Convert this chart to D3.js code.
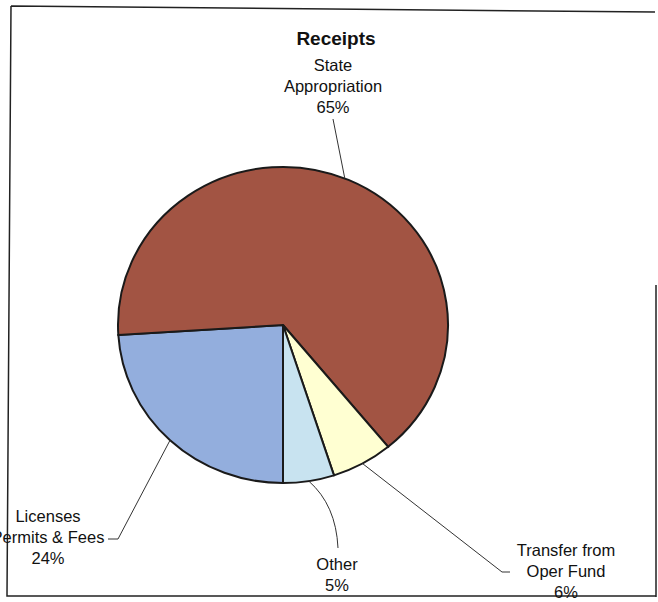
<!DOCTYPE html>
<html>
<head>
<meta charset="utf-8">
<script src="https://cdnjs.cloudflare.com/ajax/libs/d3/7.8.5/d3.min.js"></script>
<style>
  body { margin: 0; background: #fff; }
  text { font-family: "Liberation Sans", Arial, sans-serif; fill: #111; }
</style>
</head>
<body>
<div id="chart"></div>
<script>
// slices, clockwise from 6 o'clock
const categories = ["Licenses Permits & Fees", "State Appropriation", "Transfer from Oper Fund", "Other"];
const labelLines = [["Licenses", "Permits & Fees"], ["State", "Appropriation"], ["Transfer from", "Oper Fund"], ["Other"]];
const values = [24, 65, 6, 5];
const colors = ["#93AEDD", "#A25443", "#FFFFD2", "#C8E3F0"];

const width = 658, height = 602;
const cx = 283, cy = 325, r = 165, squash = 0.958;

// label placement: text centre x, first baseline y, leader angle (deg), leader path points
const layout = [
  { x: 48, y: 522, angle: null, pts: [[118, 539], [108, 539]] },
  { x: 333, y: 71, angle: 22, pts: [[333, 119]] },
  { x: 566, y: 556, angle: null, pts: [[502, 572], [510, 572]] },
  { x: 337, y: 570, angle: null, pts: [[338, 548]], curve: [336, 505] }
];

const svg = d3.select('#chart')
  .append('svg')
  .attr('width', width)
  .attr('height', height);

// scanned frame
svg.append('path')
  .attr('d', 'M11,6 L655,12 M11,6 L7,596 L656,596 M656,285 L656,597')
  .attr('fill', 'none')
  .attr('stroke', '#222')
  .attr('stroke-width', 1.5);

svg.append('text')
  .attr('x', 336)
  .attr('y', 45)
  .attr('text-anchor', 'middle')
  .style('font-size', '19px')
  .style('font-weight', 'bold')
  .text('Receipts');

const pie = d3.pie()
  .sort(null)
  .startAngle(Math.PI)
  .endAngle(3 * Math.PI);

const arcs = pie(values);

const arc = d3.arc()
  .innerRadius(0)
  .outerRadius(r);

const g = svg.append('g')
  .attr('transform', `translate(${cx}, ${cy}) scale(1, ${squash})`);

g.selectAll('path')
  .data(arcs)
  .enter()
  .append('path')
  .attr('d', arc)
  .attr('fill', (d, i) => colors[i])
  .attr('stroke', '#1a1a1a')
  .attr('stroke-width', 2)
  .attr('vector-effect', 'non-scaling-stroke');

// point on the pie edge
function edgePoint(a) {
  return [cx + r * Math.sin(a), cy - r * Math.cos(a) * squash];
}

arcs.forEach((d, i) => {
  const lay = layout[i];
  const a = lay.angle == null ? (d.startAngle + d.endAngle) / 2 : lay.angle * Math.PI / 180;
  const p0 = edgePoint(a);
  let path;
  if (lay.curve) {
    const e = lay.pts[0];
    path = `M${p0[0]},${p0[1]} Q${lay.curve[0]},${lay.curve[1]} ${e[0]},${e[1]}`;
  } else {
    path = d3.line()([p0].concat(lay.pts));
  }
  svg.append('path')
    .attr('d', path)
    .attr('fill', 'none')
    .attr('stroke', '#333')
    .attr('stroke-width', 1);

  const lines = labelLines[i].concat([values[i] + '%']);
  const t = svg.append('text')
    .attr('text-anchor', 'middle')
    .style('font-size', '16.5px');
  lines.forEach((s, k) => {
    t.append('tspan')
      .attr('x', lay.x)
      .attr('y', lay.y + k * 21)
      .text(s);
  });
});
</script>
</body>
</html>
